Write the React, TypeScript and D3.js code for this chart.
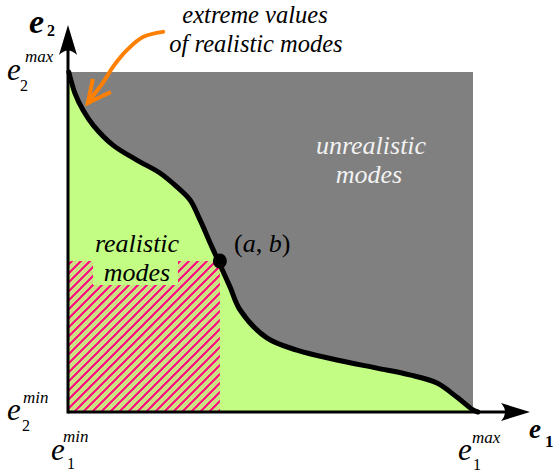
import React from "react";
import * as d3 from "d3";

// Boundary curve of realistic modes (normalized e1, e2)
const curveE1 = [0.002, 0.017, 0.037, 0.062, 0.111, 0.17, 0.227, 0.269, 0.301, 0.326, 0.351, 0.37, 0.4, 0.425, 0.491, 0.565, 0.664, 0.763, 0.844, 0.911, 0.96, 1.0, 1.012];
const curveE2 = [1.0, 0.938, 0.888, 0.844, 0.785, 0.741, 0.703, 0.662, 0.624, 0.565, 0.497, 0.447, 0.368, 0.3, 0.218, 0.182, 0.153, 0.129, 0.109, 0.085, 0.044, 0.006, 0.0];

// Highlighted point (a, b)
const pointA = 0.375;
const pointB = 0.444;

// Annotation arrow path (normalized coords)
const arrowE1 = [0.235, 0.185, 0.146, 0.111, 0.086, 0.054, 0.049];
const arrowE2 = [1.118, 1.103, 1.065, 1.015, 0.968, 0.918, 0.909];

const W = 554;
const H = 473;
const FONT = '"Liberation Serif", "Times New Roman", Times, serif';

export default function App() {
  const x = d3.scaleLinear().domain([0, 1]).range([68, 473]);
  const y = d3.scaleLinear().domain([0, 1]).range([412, 72]);

  const pts: [number, number][] = curveE1.map((v, i) => [v, curveE2[i]]);
  const line = d3
    .line<[number, number]>()
    .x((d) => x(d[0]))
    .y((d) => y(d[1]))
    .curve(d3.curveCatmullRom.alpha(0.5));
  const area = d3
    .area<[number, number]>()
    .x((d) => x(d[0]))
    .y0(y(0))
    .y1((d) => y(d[1]))
    .curve(d3.curveCatmullRom.alpha(0.5));
  const areaPts: [number, number][] = [[0, 1.0], ...pts];

  const arrPts: [number, number][] = arrowE1.map((v, i) => [v, arrowE2[i]]);
  const arrowLine = d3
    .line<[number, number]>()
    .x((d) => x(d[0]))
    .y((d) => y(d[1]))
    .curve(d3.curveCatmullRom.alpha(0.5));
  const tip = arrPts[arrPts.length - 1];
  const tx = x(tip[0]);
  const ty = y(tip[1]);

  const x0 = x(0);
  const y0 = y(0);
  const ts = { fontFamily: FONT };

  return (
    <svg
      width={W}
      height={H}
      style={{ position: "absolute", left: 0, top: 0, background: "#fff", fontFamily: FONT }}
    >
      <defs>
        <pattern id="hatch" patternUnits="userSpaceOnUse" width={9} height={9}>
          <path d="M-2,2 L2,-2 M0,9 L9,0 M7,11 L11,7" stroke="#ff1080" strokeWidth={2.3} />
          <path d="M-2,6.5 L6.5,-2 M2.5,11 L11,2.5" stroke="#ff4a8a" strokeWidth={0.8} opacity={0.6} />
        </pattern>
      </defs>

      {/* unrealistic region */}
      <rect x={x(0)} y={y(1)} width={x(1) - x(0)} height={y(0) - y(1)} fill="#808080" />
      {/* realistic region */}
      <path d={area(areaPts) || ""} fill="#c3fd83" />
      {/* hatched dominated box */}
      <rect x={x0} y={y(pointB)} width={x(pointA) - x0} height={y0 - y(pointB)} fill="url(#hatch)" />
      {/* label background */}
      <rect x={93} y={y(pointB) - 1} width={85} height={25} fill="#c3fd83" />

      {/* boundary curve */}
      <path d={line(pts) || ""} fill="none" stroke="#000" strokeWidth={5} strokeLinejoin="round" strokeLinecap="round" />
      <ellipse cx={x(pointA)} cy={y(pointB)} rx={7} ry={7.5} fill="#000" />

      {/* axes */}
      <line x1={x0} y1={y0 + 1.5} x2={x0} y2={45} stroke="#000" strokeWidth={3} />
      <line x1={x0} y1={y0} x2={510} y2={y0} stroke="#000" strokeWidth={3} />
      <path d={`M${x0},25 L${x0 + 9},55 Q${x0},46 ${x0 - 9},55 Z`} fill="#000" />
      <path d={`M530,${y0} L501,${y0 - 9} Q509,${y0} 501,${y0 + 9} Z`} fill="#000" />

      {/* orange annotation arrow */}
      <path d={arrowLine(arrPts) || ""} fill="none" stroke="#ff8000" strokeWidth={4} strokeLinecap="round" />
      <path
        d={`M${tx + 5},${ty - 24} L${tx},${ty} L${tx + 23},${ty - 11}`}
        fill="none"
        stroke="#ff8000"
        strokeWidth={4}
        strokeLinejoin="miter"
      />

      {/* text annotations */}
      <g fontStyle="italic" fontSize={24.5} textAnchor="middle" style={ts}>
        <text x={255} y={23}>extreme values</text>
        <text x={256} y={52}>of realistic modes</text>
      </g>
      <g fontStyle="italic" fontSize={26} textAnchor="middle" style={ts}>
        <text x={371} y={154} fill="#f2f2f2">unrealistic</text>
        <text x={369} y={183} fill="#f2f2f2">modes</text>
        <text x={137} y={252}>realistic</text>
        <text x={137} y={281}>modes</text>
      </g>
      <text x={234} y={252} fontSize={26} style={ts}>
        (<tspan fontStyle="italic">a</tspan>, <tspan fontStyle="italic">b</tspan>)
      </text>

      <g style={ts}>
        {/* axis titles */}
        <text x={29} y={33} fontSize={34} fontWeight="bold" fontStyle="italic">e</text>
        <text x={47} y={36} fontSize={16} fontWeight="bold">2</text>
        <text x={529} y={438} fontSize={27} fontWeight="bold" fontStyle="italic">e</text>
        <text x={545} y={447} fontSize={17} fontWeight="bold">1</text>

        {/* extreme labels */}
        <text x={7} y={80} fontSize={31} fontStyle="italic">e</text>
        <text x={25} y={62} fontSize={17} fontStyle="italic">max</text>
        <text x={20} y={91} fontSize={16}>2</text>

        <text x={7} y={420} fontSize={31} fontStyle="italic">e</text>
        <text x={23} y={403} fontSize={17} fontStyle="italic">min</text>
        <text x={22} y={431} fontSize={16}>2</text>

        <text x={51} y={460} fontSize={31} fontStyle="italic">e</text>
        <text x={63} y={442} fontSize={17} fontStyle="italic">min</text>
        <text x={67} y={469} fontSize={16}>1</text>

        <text x={458} y={460} fontSize={31} fontStyle="italic">e</text>
        <text x={472} y={443} fontSize={17} fontStyle="italic">max</text>
        <text x={473} y={470} fontSize={16}>1</text>
      </g>
    </svg>
  );
}
